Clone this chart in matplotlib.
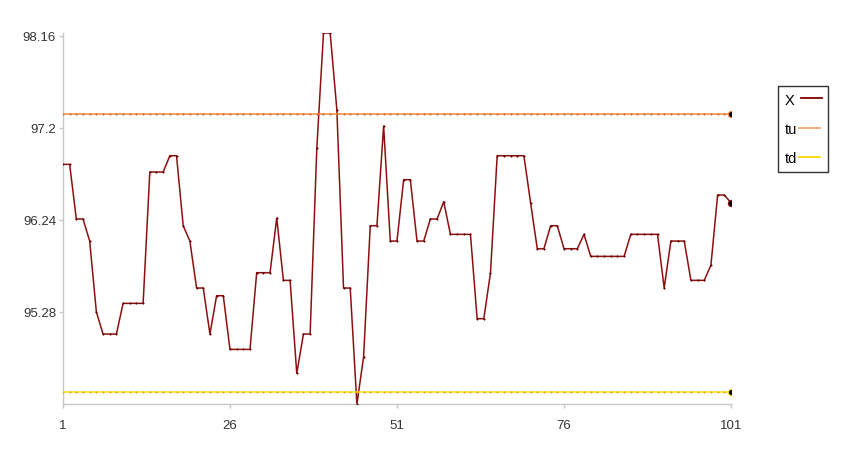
import matplotlib
matplotlib.use("Agg")
import matplotlib.pyplot as plt
import numpy as np

plt.rcParams['font.family'] = ['Liberation Sans', 'DejaVu Sans']

# series values, x = 1..101
x_vals = [
    96.82, 96.82, 96.25, 96.25, 96.02, 95.28, 95.05, 95.05, 95.05, 95.37,
    95.37, 95.37, 95.37, 96.74, 96.74, 96.74, 96.91, 96.91, 96.18, 96.02,
    95.53, 95.53, 95.05, 95.45, 95.45, 94.89, 94.89, 94.89, 94.89, 95.69,
    95.69, 95.69, 96.26, 95.61, 95.61, 94.64, 95.05, 95.05, 96.99, 98.19,
    98.19, 97.39, 95.53, 95.53, 94.32, 94.81, 96.18, 96.18, 97.22, 96.02,
    96.02, 96.66, 96.66, 96.02, 96.02, 96.25, 96.25, 96.43, 96.09, 96.09,
    96.09, 96.09, 95.21, 95.21, 95.69, 96.91, 96.91, 96.91, 96.91, 96.91,
    96.42, 95.94, 95.94, 96.18, 96.18, 95.94, 95.94, 95.94, 96.09, 95.86,
    95.86, 95.86, 95.86, 95.86, 95.86, 96.09, 96.09, 96.09, 96.09, 96.09,
    95.53, 96.02, 96.02, 96.02, 95.61, 95.61, 95.61, 95.77, 96.50, 96.50,
    96.42,
]
tu_val = 97.346
td_val = 94.442
x_ticks = [1, 26, 51, 76, 101]
y_ticks = [95.28, 96.24, 97.2, 98.16]

idx = np.arange(1, len(x_vals) + 1)
tu = np.full(len(idx), tu_val)
td = np.full(len(idx), td_val)

fig = plt.figure(figsize=(8.44, 4.56), dpi=100)
ax = fig.add_axes([0.0746, 0.1118, 0.7915, 0.8136])

series = [
    ("X", x_vals, "#8b1010", "#6a0000", "#800000"),
    ("tu", tu, "#f28a40", "#d86a20", "#f4a070"),
    ("td", td, "#ffd820", "#e0b000", "#ffd700"),
]
handles = []
for name, vals, col, dotcol, legcol in series:
    ax.plot(idx, vals, color=col, lw=1.1, zorder=2)
    ax.plot(idx, vals, ls="none", marker="o", ms=1.1, mfc=dotcol, mec=dotcol, mew=0.3, zorder=3)
    ax.plot(idx[-1], vals[-1], ls="none", marker="o", ms=4.5, mfc="black", mec=col, mew=0.8, zorder=4)
    h, = ax.plot([], [], color=legcol, lw=1.3, label=name)
    handles.append(h)

ax.set_xlim(1, 101)
ax.set_ylim(94.32, 98.19)
ax.set_xticks(x_ticks)
ax.set_yticks(y_ticks)
ax.set_yticklabels([f"{v:g}" for v in y_ticks])

for s in ["top", "right"]:
    ax.spines[s].set_visible(False)
for s in ["left", "bottom"]:
    ax.spines[s].set_color("#c8c8c8")
    ax.spines[s].set_linewidth(1.0)
ax.tick_params(axis="both", colors="#c8c8c8", labelcolor="#333333", labelsize=9.5, length=3, width=1)
ax.tick_params(axis="x", pad=8)
ax.tick_params(axis="y", pad=2)

leg = fig.legend(handles=handles, labels=["X ", "tu", "td"], loc="upper left",
                 bbox_to_anchor=(778 / 844, 369 / 456),
                 bbox_transform=fig.transFigure, borderaxespad=0, markerfirst=False,
                 frameon=True, fancybox=False, edgecolor="black", fontsize=10.5,
                 handlelength=1.45, handletextpad=0.15, labelspacing=1.05, borderpad=0.45)
leg.get_frame().set_linewidth(1.0)
# labels left-aligned like the reference
for col in leg._legend_handle_box.get_children():
    col.align = "left"

fig.savefig("out.png", dpi=100)
